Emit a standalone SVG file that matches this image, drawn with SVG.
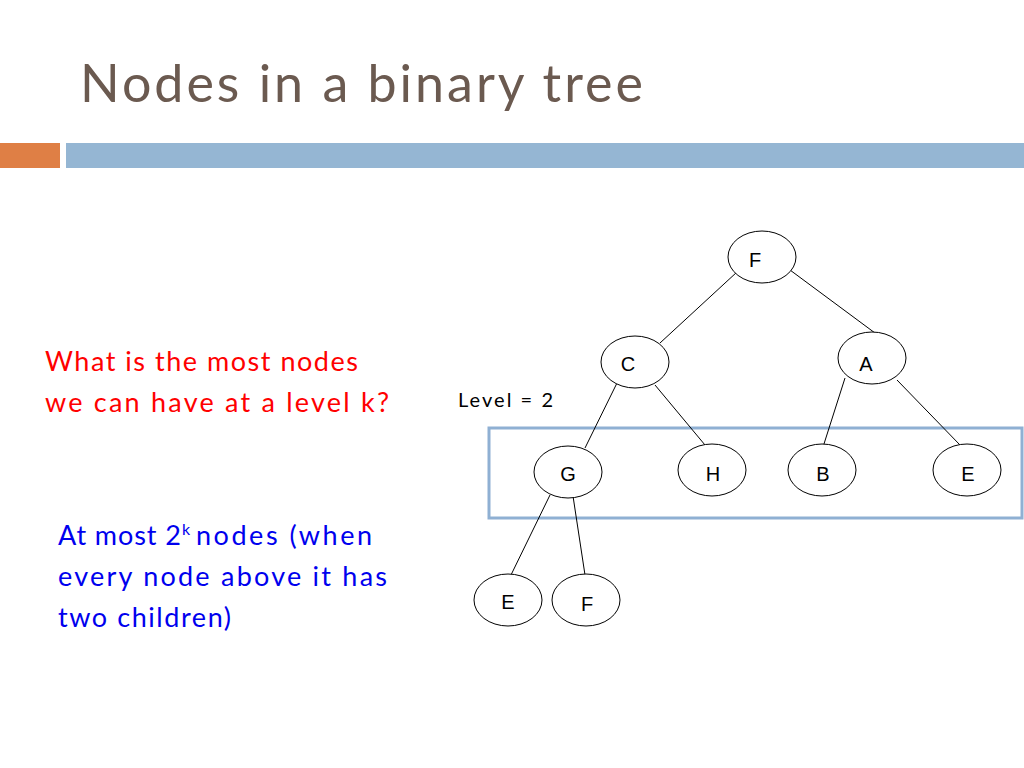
<svg xmlns="http://www.w3.org/2000/svg" width="1024" height="768" viewBox="0 0 1024 768">
<style>
.n ellipse{fill:#fff;stroke:#000;stroke-width:1}
.n text{font-family:"Liberation Sans",Arial,sans-serif;font-size:20px;text-anchor:middle}
.e line{stroke:#000;stroke-width:1}
.b{font-family:Lato,"Open Sans",sans-serif;font-size:27px}
</style>
<rect width="1024" height="768" fill="#fff"/>
<text x="80" y="102" font-family="Lato,'Open Sans',sans-serif" font-size="52" fill="#6b5a50" textLength="563" lengthAdjust="spacing">Nodes in a binary tree</text>
<rect x="0" y="143" width="60" height="25" fill="#df7f45"/>
<rect x="66" y="143" width="958" height="25" fill="#95b6d3"/>
<text class="b" x="45" y="371" fill="#ff0000" textLength="313" lengthAdjust="spacing">What is the most nodes</text>
<text class="b" x="45" y="412" fill="#ff0000" textLength="344" lengthAdjust="spacing">we can have at a level k?</text>
<text x="458" y="407" font-family="Lato,sans-serif" font-size="20" textLength="95" lengthAdjust="spacing">Level = 2</text>
<text class="b" x="58" y="545" fill="#0000ee"><tspan textLength="123" lengthAdjust="spacing">At most 2</tspan><tspan dy="-10" font-size="16">k</tspan><tspan dy="10" x="196" textLength="176" lengthAdjust="spacing">nodes (when</tspan></text>
<text class="b" x="58" y="586" fill="#0000ee" textLength="329" lengthAdjust="spacing">every node above it has</text>
<text class="b" x="58" y="627" fill="#0000ee" textLength="173" lengthAdjust="spacing">two children)</text>
<rect x="489" y="428" width="533" height="90" fill="none" stroke="#8fb0d3" stroke-width="3"/>
<g class="e">
<line x1="737" y1="272" x2="660" y2="343"/>
<line x1="790" y1="270" x2="875" y2="333"/>
<line x1="617" y1="383" x2="585" y2="448"/>
<line x1="655" y1="385" x2="705" y2="445"/>
<line x1="845" y1="378" x2="823" y2="447"/>
<line x1="897" y1="380" x2="960" y2="445"/>
<line x1="550" y1="495" x2="510" y2="577"/>
<line x1="573" y1="496" x2="585" y2="575"/>
</g>
<g class="n" id="nF"><ellipse cx="762" cy="257" rx="34" ry="26"/><text x="755" y="267">F</text></g>
<g class="n" id="nC"><ellipse cx="635" cy="362" rx="34" ry="26"/><text x="628" y="371">C</text></g>
<g class="n" id="nA"><ellipse cx="872" cy="358" rx="34" ry="26"/><text x="866" y="371">A</text></g>
<g class="n" id="nG"><ellipse cx="568" cy="472" rx="34" ry="26"/><text x="568" y="481">G</text></g>
<g class="n" id="nH"><ellipse cx="712" cy="470" rx="34" ry="26"/><text x="713" y="481">H</text></g>
<g class="n" id="nB"><ellipse cx="822" cy="470" rx="34" ry="26"/><text x="823" y="481">B</text></g>
<g class="n" id="nE"><ellipse cx="967" cy="470" rx="34" ry="26"/><text x="968" y="481">E</text></g>
<g class="n" id="nE2"><ellipse cx="508" cy="600" rx="34" ry="26"/><text x="508" y="609">E</text></g>
<g class="n" id="nF2"><ellipse cx="586" cy="600" rx="34" ry="26"/><text x="587" y="611">F</text></g>
</svg>
